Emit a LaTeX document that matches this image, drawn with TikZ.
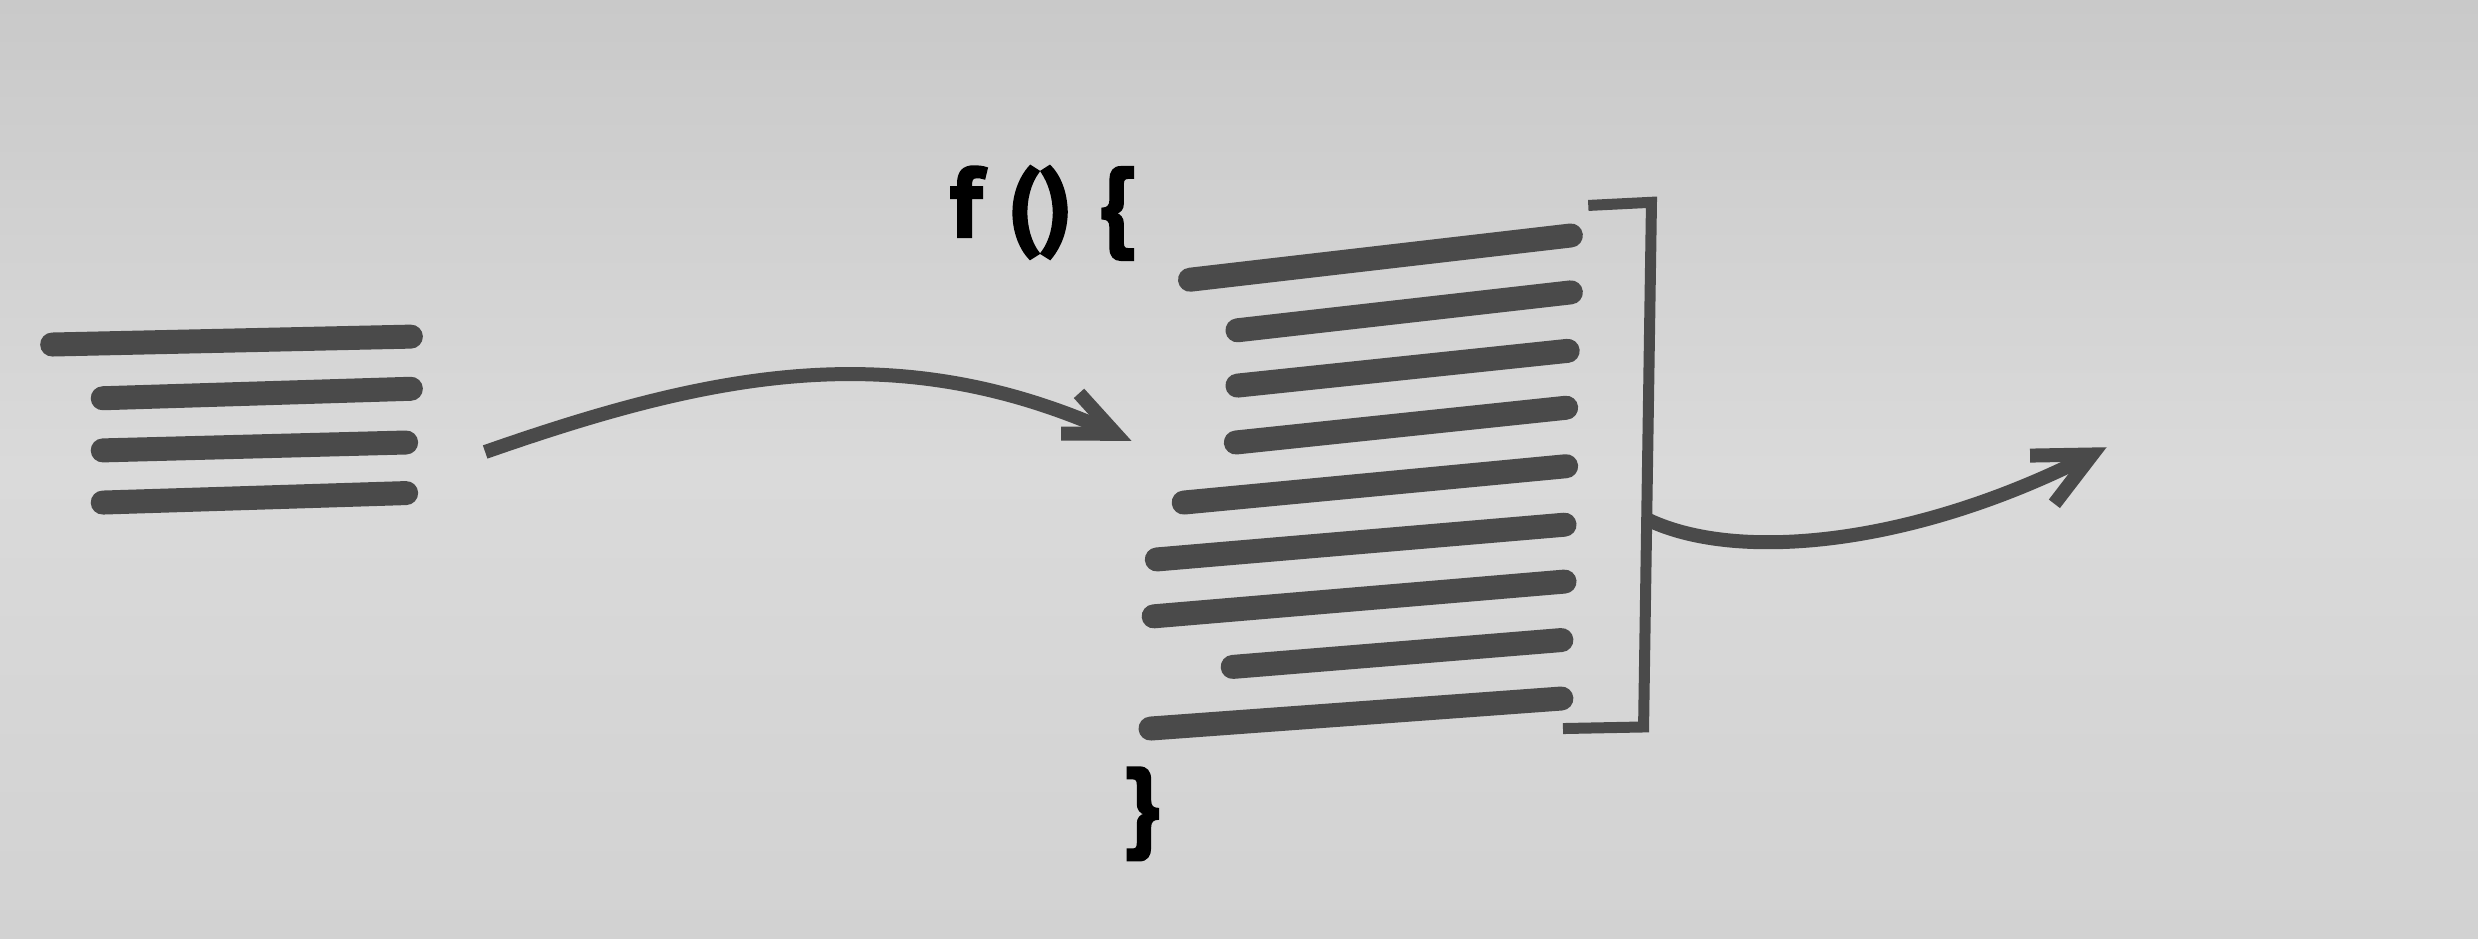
\documentclass[tikz,border=0pt]{standalone}
\usepackage{fontspec}
\newfontfamily\codefont[BoldFeatures={FakeBold=2}]{PT Sans}
\usetikzlibrary{arrows.meta}
\definecolor{papertop}{HTML}{C9C9C9}
\definecolor{papermid}{HTML}{DADADA}
\definecolor{paperbot}{HTML}{D2D2D2}
\definecolor{ink}{HTML}{4A4A4A}
\tikzset{
  codeline/.style={draw=ink, line width=24pt, line cap=round},
  flow/.style={draw=ink, line width=14pt},
  intip/.style={-{Straight Barb[length=50pt, width=44pt, line width=14pt]}},
  outtip/.style={-{Straight Barb[length=56pt, width=54pt, line width=14pt]}},
  bracketline/.style={draw=ink, line width=11pt},
  codetext/.style={font=\codefont\bfseries\fontsize{100}{110}\selectfont, text=black, inner sep=0pt}
}
\begin{document}
\begin{tikzpicture}[x=1.5804pt, y=-1.5804pt]
\shade[top color=papertop, bottom color=paperbot, middle color=papermid] (0,0) rectangle (1568,594);
\useasboundingbox (0,0) rectangle (1568,594);
% left block of lines
\draw[codeline] (33,218) -- (260,213);
\draw[codeline] (65,252) -- (260,246);
\draw[codeline] (65,285) -- (257,280);
\draw[codeline] (65,318) -- (257,312);
% function text
\node[codetext, anchor=base west] (fhead) at (601,150) {f () \{};
\node[codetext] (fclose) at (723,515) {\}};
% function body lines
\draw[codeline] (753,177) -- (994,149);
\draw[codeline] (783,209) -- (994,185);
\draw[codeline] (783,244) -- (992,222);
\draw[codeline] (782,280) -- (991,258);
\draw[codeline] (749,318) -- (991,295);
\draw[codeline] (732,354) -- (990,332);
\draw[codeline] (730,390) -- (990,368);
\draw[codeline] (780,422) -- (988,405);
\draw[codeline] (728,461) -- (988,442);
% bracket
\draw[bracketline] (1005,130) -- (1045,128) -- (1040,460) -- (989,461);
\coordinate (brk) at (1043,329);
\coordinate (inS) at (307,286);
\coordinate (inE) at (716,279);
\coordinate (outE) at (1333,283);
% arrows
\draw[flow, intip] (inS) .. controls (450,236) and (566,212) .. (inE);
\draw[flow, outtip] (brk) .. controls (1100,356) and (1210,345) .. (outE);
\end{tikzpicture}
\end{document}
